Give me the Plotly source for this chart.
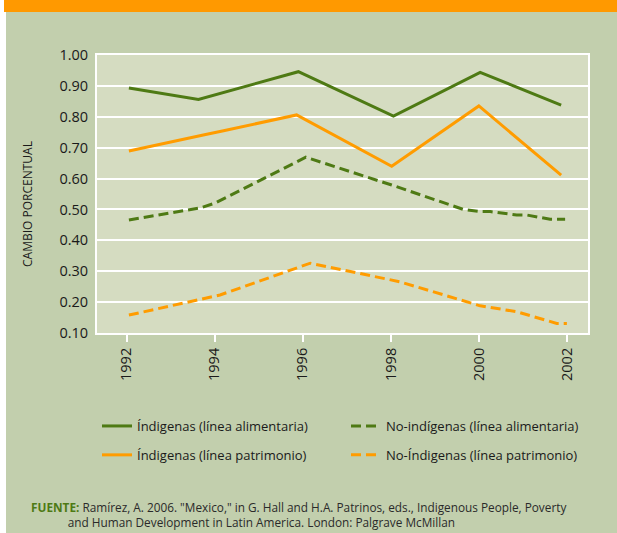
import plotly.graph_objects as go

# Poverty change series (x in years, y as a proportion)
ind_alim_years = [1992.05, 1993.63, 1995.9, 1998.06, 2000.03, 2001.87]
ind_alim_vals = [0.893, 0.856, 0.946, 0.802, 0.944, 0.838]

ind_patr_years = [1992.05, 1993.17, 1993.74, 1994.2, 1995.86, 1998.02, 2000.0, 2001.87]
ind_patr_vals = [0.689, 0.725, 0.741, 0.755, 0.806, 0.640, 0.835, 0.611]

noind_alim_years = [1992.05, 1993.67, 1994.0, 1996.07, 1998.02, 1999.65, 2000.03,
                    2000.26, 2000.86, 2001.09, 2001.62, 2001.96]
noind_alim_vals = [0.466, 0.505, 0.520, 0.669, 0.579, 0.500, 0.493,
                   0.493, 0.482, 0.482, 0.468, 0.468]

noind_patr_years = [1992.05, 1994.12, 1996.17, 1998.2, 2000.03, 2000.86, 2001.77, 2002.0]
noind_patr_vals = [0.158, 0.223, 0.326, 0.266, 0.188, 0.169, 0.131, 0.131]

x_ticks = [1992, 1994, 1996, 1998, 2000, 2002]
y_ticks = [0.1, 0.2, 0.3, 0.4, 0.5, 0.6, 0.7, 0.8, 0.9, 1.0]
y_tick_text = [f"{v:.2f}" for v in y_ticks]

GREEN = "#4E7A14"
ORANGE = "#FF9C00"
BG = "#C2CFAD"
PLOT_BG = "#D5DCC1"
FONT = "Open Sans"

W, H = 617, 533
L, R, T, B = 97, 29, 55, 200
PW, PH = W - L - R, H - T - B


def px_x(p):
    return (p - L) / PW


def px_y(p):
    return (H - B - p) / PH


fig = go.Figure()

fig.add_trace(go.Scatter(
    x=ind_alim_years, y=ind_alim_vals, mode="lines",
    name="Índigenas (línea alimentaria)",
    line=dict(color=GREEN, width=3), legend="legend", legendgroup="a"))
fig.add_trace(go.Scatter(
    x=ind_patr_years, y=ind_patr_vals, mode="lines",
    name="Índigenas (línea patrimonio)",
    line=dict(color=ORANGE, width=3), legend="legend", legendgroup="b"))
fig.add_trace(go.Scatter(
    x=noind_alim_years, y=noind_alim_vals, mode="lines",
    name="No-indígenas (línea alimentaria)",
    line=dict(color=GREEN, width=3, dash="10px,5px"), legend="legend2", legendgroup="c"))
fig.add_trace(go.Scatter(
    x=noind_patr_years, y=noind_patr_vals, mode="lines",
    name="No-Índigenas (línea patrimonio)",
    line=dict(color=ORANGE, width=3, dash="10px,5px"), legend="legend2", legendgroup="d"))

legend_common = dict(
    font=dict(family=FONT, size=13, color="#1a1a1a"),
    bgcolor="rgba(0,0,0,0)", orientation="v",
    xanchor="left", yanchor="top", tracegroupgap=9,
)

source_text = (
    f"<b><span style='color:{GREEN}'>FUENTE:</span></b> Ramírez, A. 2006. \"Mexico,\" in G. Hall "
    "and H.A. Patrinos, eds., Indigenous People, Poverty<br>"
    + "&nbsp;" * 12
    + "and Human Development in Latin America. London: Palgrave McMillan"
)

fig.update_layout(
    width=W, height=H,
    margin=dict(l=L, r=R, t=T, b=B),
    paper_bgcolor=BG,
    plot_bgcolor=PLOT_BG,
    font=dict(family=FONT, color="#1a1a1a"),
    showlegend=True,
    legend=dict(x=px_x(97), y=px_y(411), **legend_common),
    legend2=dict(x=px_x(346), y=px_y(411), **legend_common),
    xaxis=dict(
        range=[1991.325, 2002.48],
        tickvals=x_ticks, ticktext=[str(v) for v in x_ticks],
        tickangle=-90, ticks="outside", ticklen=7, tickwidth=2, tickcolor="white",
        showgrid=False, zeroline=False,
        showline=True, linecolor="white", linewidth=2, mirror=True,
        tickfont=dict(family=FONT, size=14.5, color="#1a1a1a"),
    ),
    yaxis=dict(
        range=[0.1, 1.0],
        tickvals=y_ticks, ticktext=y_tick_text,
        ticks="", showgrid=True, gridcolor="white", gridwidth=2,
        zeroline=False, ticklabelstandoff=4,
        showline=True, linecolor="white", linewidth=2, mirror=True,
        tickfont=dict(family=FONT, size=14.5, color="#1a1a1a"),
    ),
    shapes=[
        # white strip at the left edge
        dict(type="rect", xref="paper", yref="paper",
             x0=px_x(0), x1=px_x(6), y0=px_y(H), y1=px_y(0),
             fillcolor="white", line=dict(width=0), layer="above"),
        # orange header bar
        dict(type="rect", xref="paper", yref="paper",
             x0=px_x(4), x1=px_x(W), y0=px_y(12), y1=px_y(0),
             fillcolor="#FF9900", line=dict(width=0), layer="above"),
    ],
    annotations=[
        dict(text="CAMBIO PORCENTUAL", textangle=-90,
             x=px_x(27), y=px_y(204), xref="paper", yref="paper",
             xanchor="center", yanchor="middle", showarrow=False,
             font=dict(family=FONT, size=12, color="#1a1a1a")),
        dict(text=source_text, align="left",
             x=px_x(29), y=px_y(532), xref="paper", yref="paper",
             xanchor="left", yanchor="bottom", showarrow=False,
             font=dict(family=FONT, size=11.8, color="#2a2a2a")),
    ],
)

fig.write_html("out.html")
